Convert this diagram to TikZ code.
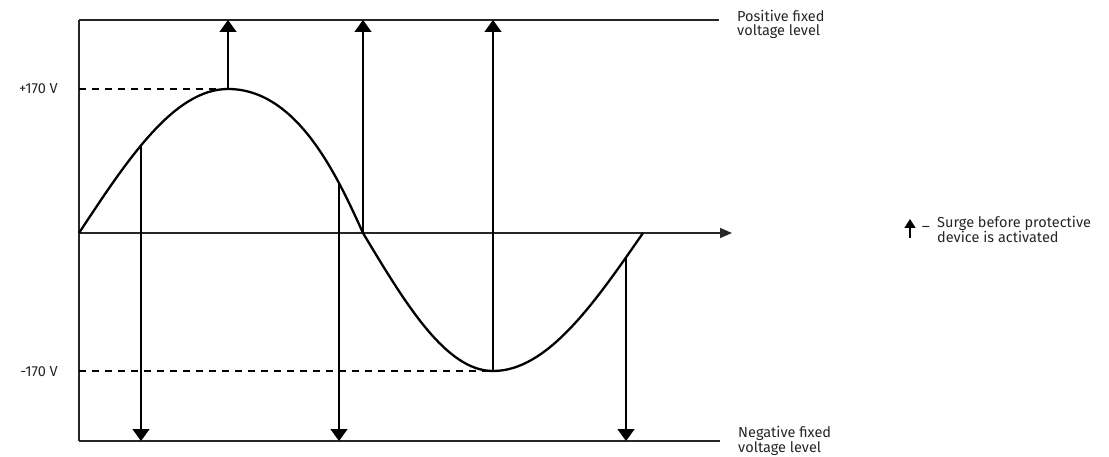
\documentclass[tikz,border=0pt]{standalone}
\usepackage{fontspec}
\setmainfont{Fira Sans}
\usetikzlibrary{arrows.meta,intersections}
\tikzset{
  frameline/.style={line width=1.3pt, black!85},
  wave/.style={line width=2.3pt},
  surge/.style={line width=1.5pt, -{Triangle[width=17pt,length=12pt]}},
  level/.style={line width=1.8pt, dash pattern=on 7pt off 6pt},
  lbl/.style={font=\fontsize{14.5}{13.8}\selectfont, text=black!85, inner sep=0pt, align=left},
}
\begin{document}
\begin{tikzpicture}[x=1pt,y=-1pt]
\useasboundingbox (0,0) rectangle (1109,457);
\coordinate (TL) at (79,20);
\coordinate (O) at (79,233);
\coordinate (BL) at (79,441);
\coordinate (TR) at (719,20);
\coordinate (BR) at (720,441);
\coordinate (AX) at (732,233);
\coordinate (P1) at (228,89);
\coordinate (Z1) at (363,233);
\coordinate (T1) at (493,371);
\coordinate (Z2) at (643,233);
% frame
\draw[frameline] (TL) -- (BL);
\draw[frameline] (TL) -- (TR);
\draw[frameline] (BL) -- (BR);
\draw[frameline, -{Triangle[width=10pt,length=12pt]}] (O) -- (AX);
% wave
\draw[wave, name path=wave] (O) sin (P1) .. controls (298,89) and (338,178) .. (Z1) sin (T1) cos (Z2);
% dashed levels
\draw[level] (P1 -| TL) -- (P1);
\draw[level] (T1 -| TL) -- (T1);
% intersections for down arrows
\path[name path=v1] (141,0) -- (141,457);
\path[name path=v2] (339,0) -- (339,457);
\path[name path=v3] (626,0) -- (626,457);
\path[name intersections={of=wave and v1, by=S1}];
\path[name intersections={of=wave and v2, by=S2}];
\path[name intersections={of=wave and v3, by=S3}];
% surges
\draw[surge] (P1) -- (P1 |- TL);
\draw[surge] (Z1) -- (Z1 |- TL);
\draw[surge] (T1) -- (T1 |- TL);
\draw[surge] (S1) -- (S1 |- BL);
\draw[surge] (S2) -- (S2 |- BL);
\draw[surge] (S3) -- (S3 |- BL);
% labels
\node[lbl, anchor=east] (pv) at (58,89) {+170 V};
\node[lbl, anchor=east] (nv) at (58,372) {-170 V};
\node[lbl, anchor=north west] (pos) at (737,10) {Positive fixed\\voltage level};
\node[lbl, anchor=north west] (neg) at (738,426) {Negative fixed\\voltage level};
% legend
\coordinate (LA) at (910,238);
\coordinate (LB) at (910,219);
\draw[line width=1.3pt, -{Triangle[width=11pt,length=9pt]}] (LA) -- (LB);
\node[lbl, anchor=base west] (us) at (922,226) {\_};
\node[lbl, anchor=north west] (leg) at (937,216) {Surge before protective\\device is activated};
\end{tikzpicture}
\end{document}
